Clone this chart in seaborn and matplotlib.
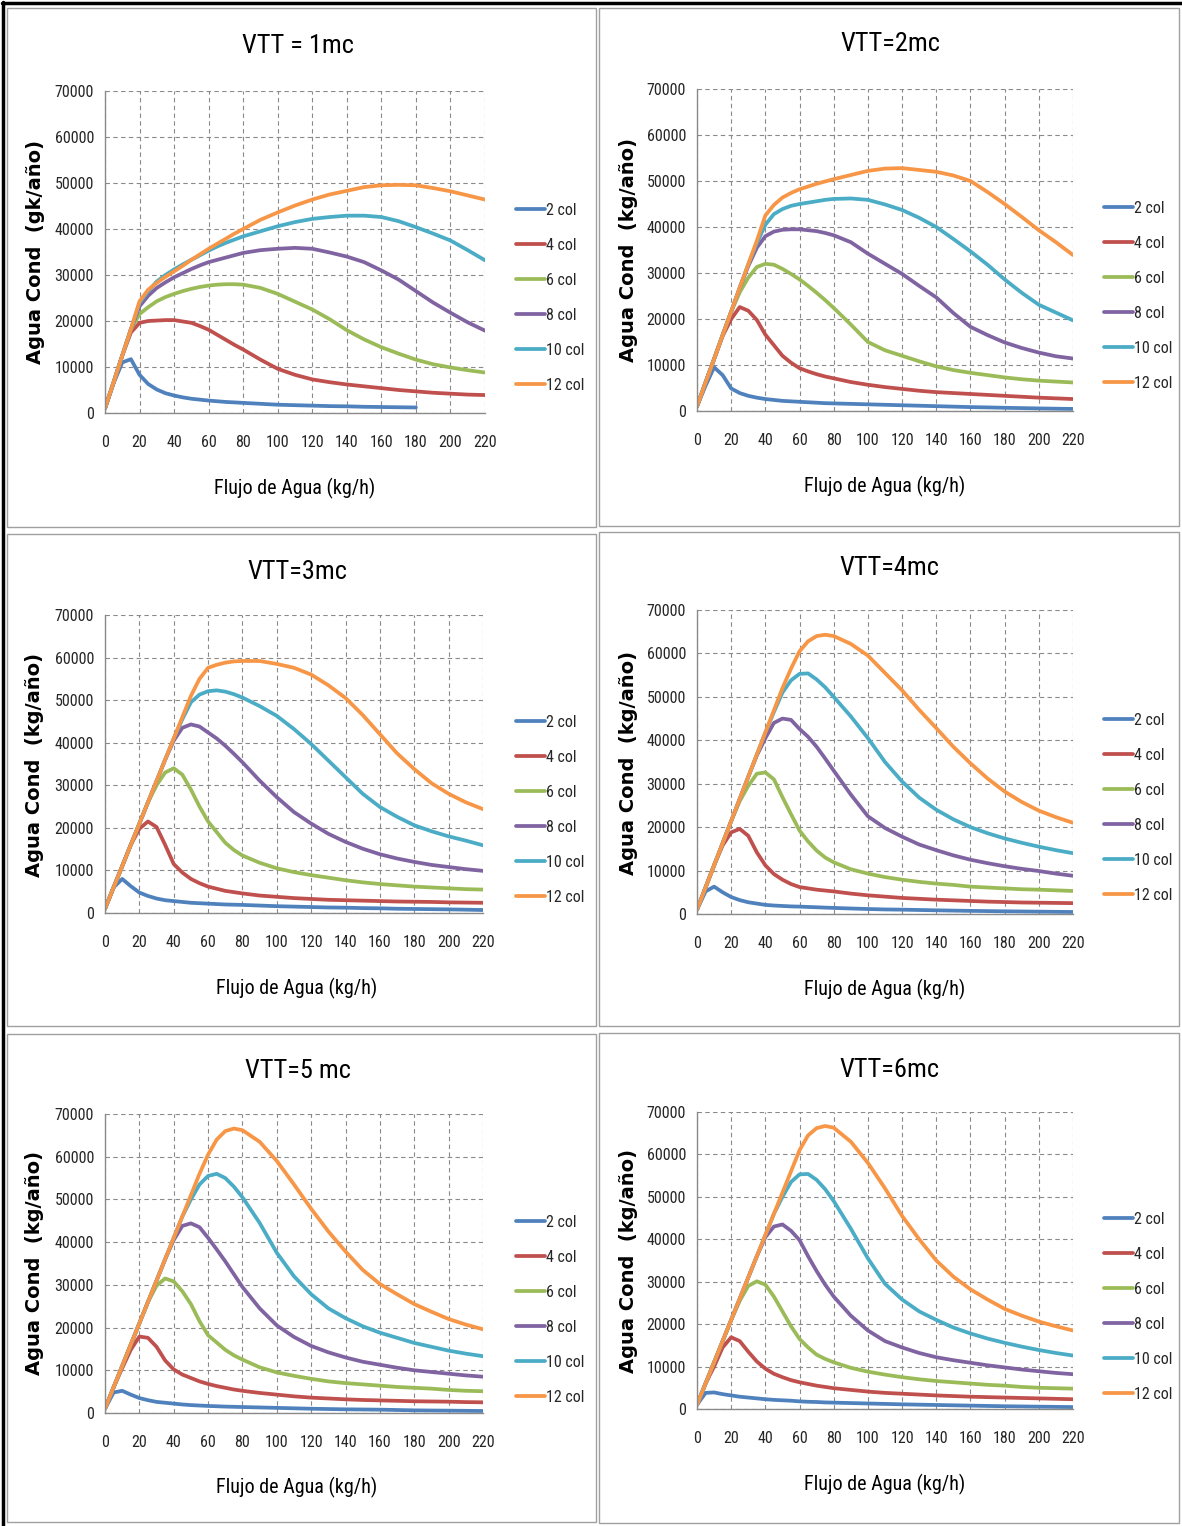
import numpy as np
import pandas as pd
import matplotlib
matplotlib.use("Agg")
import matplotlib.pyplot as plt
import seaborn as sns
from matplotlib import font_manager as fm
from matplotlib.lines import Line2D
from matplotlib.patches import Rectangle

nan = np.nan

# ---------------- data ----------------
flujo = [0, 5, 10, 15, 20, 25, 30, 35, 40, 45, 50, 55, 60, 65, 70, 75, 80,
         90, 100, 110, 120, 130, 140, 150, 160, 170, 180, 190, 200, 210, 220]
series_names = ["2 col", "4 col", "6 col", "8 col", "10 col", "12 col"]
titles = ["VTT = 1mc", "VTT=2mc", "VTT=3mc", "VTT=4mc", "VTT=5 mc", "VTT=6mc"]
ylabels = ["Agua Cond  (gk/año)"] + ["Agua Cond  (kg/año)"] * 5
xlabel = "Flujo de Agua (kg/h)"
xticks = list(range(0, 221, 20))
yticks = list(range(0, 70001, 10000))

# VTT = 1 mc
v1_2 = [1000, 6500, 11000, 11700, 8300, 6300, 5100, 4300, 3800, 3400, 3100, 2900, 2700, 2550, 2400, 2300, 2200,
        2000, 1800, 1700, 1600, 1500, 1450, 1350, 1300, 1250, 1200, nan, nan, nan, nan]
v1_4 = [1000, 6700, 12500, 17500, 19600, 20000, 20100, 20200, 20200, 19900, 19600, 18900, 18100, 17000, 15900, 14800, 13800,
        11600, 9600, 8300, 7300, 6700, 6200, 5800, 5400, 5000, 4700, 4400, 4200, 4000, 3900]
v1_6 = [1000, 6700, 12500, 18200, 21500, 23000, 24300, 25200, 25900, 26500, 27000, 27400, 27700, 27900, 28000, 28000, 27900,
        27200, 25900, 24200, 22500, 20400, 18000, 16000, 14300, 12900, 11600, 10600, 9900, 9300, 8800]
v1_8 = [1000, 6700, 12500, 18200, 23200, 25500, 27200, 28400, 29500, 30400, 31300, 32100, 32800, 33300, 33800, 34300, 34800,
        35400, 35700, 35900, 35700, 34900, 34000, 32800, 31000, 29000, 26500, 24000, 21800, 19700, 17900]
v1_10 = [1000, 6700, 12500, 18200, 23900, 26500, 28600, 30000, 31200, 32300, 33300, 34300, 35300, 36200, 37000, 37700, 38400,
         39500, 40600, 41500, 42200, 42600, 42900, 42900, 42600, 41700, 40400, 39000, 37500, 35400, 33200]
v1_12 = [1000, 6700, 12500, 18200, 24300, 26800, 28300, 29600, 30800, 32000, 33300, 34500, 35700, 36800, 37900, 39000, 40000,
         42000, 43600, 45100, 46400, 47500, 48300, 49100, 49500, 49600, 49500, 48900, 48200, 47300, 46400]

# VTT = 2 mc
v2_2 = [1000, 5500, 9500, 7800, 4900, 3900, 3300, 2900, 2600, 2400, 2200, 2100, 2000, 1900, 1800, 1700, 1650,
        1550, 1450, 1350, 1250, 1150, 1050, 950, 850, 780, 700, 630, 560, 500, 450]
v2_4 = [1000, 6200, 11300, 16300, 20000, 22600, 21800, 19800, 16600, 14300, 12000, 10500, 9300, 8600, 8000, 7500, 7100,
        6300, 5700, 5200, 4800, 4400, 4100, 3900, 3700, 3500, 3300, 3100, 2900, 2750, 2600]
v2_6 = [1000, 6200, 11300, 16500, 21600, 25800, 29000, 31300, 32000, 31800, 30900, 29800, 28600, 27200, 25700, 24100, 22400,
        18800, 15000, 13200, 12000, 10800, 9700, 8900, 8300, 7800, 7300, 6900, 6600, 6400, 6200]
v2_8 = [1000, 6200, 11300, 16500, 21600, 26800, 31500, 35500, 38000, 39000, 39400, 39500, 39500, 39300, 39100, 38700, 38200,
        36700, 34200, 32000, 29800, 27200, 24700, 21300, 18300, 16500, 14900, 13700, 12700, 11900, 11400]
v2_10 = [1000, 6200, 11300, 16500, 21600, 26800, 31900, 36500, 40500, 42800, 43900, 44600, 45000, 45300, 45600, 45900, 46100,
         46200, 45900, 44900, 43700, 42000, 40000, 37400, 34700, 31800, 28600, 25700, 23100, 21400, 19700]
v2_12 = [1000, 6200, 11300, 16500, 21600, 26800, 31900, 37000, 42500, 44800, 46400, 47400, 48200, 48800, 49400, 49900, 50400,
         51300, 52200, 52700, 52800, 52400, 52000, 51200, 50000, 47600, 45000, 42200, 39300, 36700, 33900]

# VTT = 3 mc
v3_2 = [1000, 6000, 8000, 6300, 4800, 4000, 3400, 3000, 2800, 2600, 2400, 2300, 2200, 2100, 2000, 1950, 1900,
        1750, 1600, 1500, 1400, 1300, 1250, 1150, 1100, 1000, 950, 900, 850, 780, 700]
v3_4 = [1000, 6000, 11000, 16000, 19800, 21500, 20200, 16000, 11500, 9500, 8000, 7000, 6200, 5700, 5200, 4900, 4600,
        4100, 3800, 3500, 3300, 3100, 3000, 2900, 2800, 2700, 2650, 2600, 2500, 2450, 2400]
v3_6 = [1000, 6000, 11000, 16000, 21000, 26000, 30000, 33000, 34000, 32500, 29000, 25000, 21500, 19000, 16500, 14800, 13500,
        11800, 10500, 9600, 8900, 8300, 7700, 7200, 6800, 6500, 6200, 6000, 5800, 5600, 5500]
v3_8 = [1000, 6000, 11000, 16000, 21000, 26000, 31000, 36000, 40500, 43500, 44300, 43800, 42400, 41000, 39300, 37400, 35400,
        31100, 27200, 23700, 21000, 18600, 16700, 15100, 13800, 12800, 12000, 11300, 10800, 10300, 9900]
v3_10 = [1000, 6000, 11000, 16000, 21000, 26000, 31000, 36000, 41000, 45500, 49500, 51300, 52100, 52300, 52000, 51400, 50600,
         48600, 46300, 43200, 39700, 35800, 31900, 28000, 24900, 22600, 20600, 19200, 18000, 17000, 15900]
v3_12 = [1000, 6000, 11000, 16000, 21000, 26000, 31000, 36000, 41000, 46000, 51000, 55000, 57600, 58300, 58800, 59100, 59200,
         59200, 58500, 57600, 56000, 53500, 50500, 46500, 42000, 37500, 33800, 30500, 28000, 26000, 24400]

# VTT = 4 mc
v4_2 = [1000, 5200, 6300, 5000, 3900, 3200, 2700, 2400, 2100, 1950, 1850, 1750, 1700, 1620, 1550, 1470, 1400,
        1270, 1150, 1050, 1000, 920, 850, 780, 720, 670, 620, 580, 540, 500, 460]
v4_4 = [1000, 6100, 11200, 15800, 18800, 19600, 18000, 14200, 11200, 9200, 7900, 6900, 6200, 5900, 5600, 5400, 5200,
        4700, 4300, 4000, 3700, 3500, 3300, 3150, 3000, 2850, 2750, 2650, 2600, 2550, 2500]
v4_6 = [1000, 6100, 11200, 16300, 21400, 26000, 29500, 32300, 32600, 31000, 26900, 23000, 19200, 16700, 14600, 13000, 11900,
        10300, 9300, 8500, 7900, 7400, 7000, 6700, 6300, 6100, 5900, 5700, 5600, 5450, 5300]
v4_8 = [1000, 6100, 11200, 16300, 21400, 26500, 31600, 36500, 40500, 44000, 45000, 44700, 42600, 40800, 38500, 35800, 33000,
        27500, 22500, 19800, 17800, 16000, 14700, 13500, 12500, 11700, 11000, 10400, 9900, 9300, 8800]
v4_10 = [1000, 6100, 11200, 16300, 21400, 26500, 31600, 36700, 41800, 46500, 51000, 53800, 55300, 55400, 54000, 52200, 50000,
         45500, 40500, 35000, 30500, 26800, 24000, 21800, 20000, 18600, 17400, 16400, 15500, 14700, 14000]
v4_12 = [1000, 6100, 11200, 16300, 21400, 26500, 31600, 36700, 41800, 46900, 52000, 56500, 60500, 62800, 64000, 64300, 64000,
         62200, 59500, 55500, 51500, 47000, 42800, 38500, 34700, 31200, 28200, 25800, 23800, 22300, 21000]

# VTT = 5 mc
v5_2 = [1000, 4800, 5200, 4300, 3500, 3000, 2600, 2400, 2200, 2000, 1850, 1750, 1650, 1580, 1500, 1450, 1400,
        1300, 1200, 1100, 1000, 930, 860, 820, 780, 700, 620, 580, 550, 510, 470]
v5_4 = [1000, 6000, 10500, 14800, 17900, 17600, 15500, 12300, 10200, 9000, 8200, 7400, 6800, 6300, 5900, 5500, 5200,
        4700, 4300, 3900, 3600, 3400, 3200, 3050, 2950, 2850, 2750, 2700, 2650, 2550, 2500]
v5_6 = [1000, 6000, 11000, 16000, 21000, 26000, 29800, 31500, 30800, 28500, 25500, 21500, 18200, 16500, 14800, 13500, 12500,
        10700, 9500, 8700, 8000, 7400, 7000, 6700, 6400, 6100, 5900, 5700, 5400, 5200, 5100]
v5_8 = [1000, 6000, 11000, 16000, 21000, 26000, 31000, 36000, 40500, 43800, 44400, 43500, 41000, 38300, 35500, 32500, 29500,
        24500, 20500, 17800, 15700, 14200, 13000, 12000, 11300, 10600, 10000, 9600, 9200, 8800, 8500]
v5_10 = [1000, 6000, 11000, 16000, 21000, 26000, 31000, 36000, 41000, 46000, 50000, 53500, 55500, 56000, 55000, 53000, 50500,
         44500, 37500, 32000, 27800, 24500, 22200, 20300, 18800, 17600, 16400, 15500, 14600, 13900, 13300]
v5_12 = [1000, 6000, 11000, 16000, 21000, 26000, 31000, 36000, 41000, 46000, 51000, 56000, 60500, 64000, 66000, 66600, 66200,
         63500, 59000, 53500, 47800, 42500, 37800, 33500, 30200, 27800, 25500, 23700, 22000, 20700, 19600]

# VTT = 6 mc
v6_2 = [1000, 3800, 3900, 3500, 3200, 2900, 2700, 2500, 2300, 2150, 2050, 1950, 1800, 1700, 1650, 1550, 1500,
        1400, 1300, 1200, 1100, 1020, 950, 870, 800, 720, 650, 600, 550, 500, 450]
v6_4 = [1000, 6000, 10000, 14500, 16900, 16000, 13500, 11200, 9500, 8300, 7500, 6800, 6300, 5900, 5500, 5200, 4900,
        4500, 4100, 3800, 3600, 3400, 3200, 3050, 2900, 2800, 2700, 2600, 2500, 2400, 2300]
v6_6 = [1000, 6000, 11000, 16000, 21000, 25500, 29000, 30100, 29300, 26500, 23000, 19500, 16500, 14500, 12800, 11800, 11000,
        9700, 8800, 8100, 7500, 7000, 6600, 6300, 6000, 5700, 5500, 5200, 5000, 4900, 4800]
v6_8 = [1000, 6000, 11000, 16000, 21000, 26000, 31000, 36000, 40500, 43000, 43500, 42000, 39800, 36000, 32500, 29300, 26500,
        22000, 18500, 16000, 14500, 13200, 12200, 11500, 10900, 10300, 9800, 9300, 8900, 8500, 8200]
v6_10 = [1000, 6000, 11000, 16000, 21000, 26000, 31000, 36000, 41000, 46000, 50000, 53500, 55300, 55400, 54000, 51800, 49000,
         42500, 35500, 29500, 25800, 23000, 21000, 19200, 17800, 16600, 15600, 14700, 13900, 13200, 12600]
v6_12 = [1000, 6000, 11000, 16000, 21000, 26000, 31000, 36000, 41000, 46000, 51000, 56000, 61000, 64500, 66200, 66700, 66300,
         63000, 58000, 52000, 45500, 40000, 35000, 31200, 28200, 25800, 23600, 22000, 20600, 19500, 18500]

panels = [
    [v1_2, v1_4, v1_6, v1_8, v1_10, v1_12],
    [v2_2, v2_4, v2_6, v2_8, v2_10, v2_12],
    [v3_2, v3_4, v3_6, v3_8, v3_10, v3_12],
    [v4_2, v4_4, v4_6, v4_8, v4_10, v4_12],
    [v5_2, v5_4, v5_6, v5_8, v5_10, v5_12],
    [v6_2, v6_4, v6_6, v6_8, v6_10, v6_12],
]

colors = ["#4F81BD", "#C0504D", "#9BBB59", "#8064A2", "#4BACC6", "#F79646"]

# ---------------- style ----------------
sns.set_style("white")
names = {f.name for f in fm.fontManager.ttflist}
narrow = next((n for n in ["Liberation Sans Narrow", "Roboto Condensed", "Open Sans Condensed",
                           "Liberation Sans", "DejaVu Sans"] if n in names), "DejaVu Sans")
plt.rcParams["font.family"] = [narrow, "DejaVu Sans"]

W, H = 1182, 1526
fig = plt.figure(figsize=(W / 100, H / 100), dpi=100)
fig.patch.set_facecolor("white")


def fx(x):
    return x / W


def fy(y):
    return 1 - y / H


# plot areas (left, top, right, bottom) in pixels
plot_boxes = [
    (105, 91, 485, 413),
    (697, 89, 1073, 411),
    (105, 615, 483, 913),
    (697, 610, 1073, 914),
    (105, 1114, 483, 1413),
    (697, 1112, 1073, 1409),
]
panel_boxes = [
    (7, 8, 596, 527),
    (599, 8, 1179, 526),
    (7, 534, 596, 1026),
    (599, 532, 1179, 1026),
    (7, 1034, 596, 1522),
    (599, 1033, 1179, 1523),
]
title_pos = [(298, 46), (890, 44), (297, 572), (889, 568), (298, 1071), (889, 1070)]
xlab_pos = [(295, 488), (885, 486), (297, 988), (885, 989), (297, 1487), (885, 1484)]
ylab_pos = [(36, 252), (628, 250), (35, 765), (628, 763), (35, 1263), (628, 1261)]
legend_pos = [(516, 298), (1104, 296), (516, 810), (1104, 808), (516, 1310), (1104, 1307)]

# panel frames
for (l, t, r, b) in panel_boxes:
    fig.add_artist(Rectangle((fx(l), fy(b)), (r - l) / W, (b - t) / H, transform=fig.transFigure,
                             fill=False, edgecolor="#a0a0a0", lw=1.0))
# outer black edges (top and left)
fig.add_artist(Line2D([fx(2), fx(1182)], [fy(2.5), fy(2.5)], transform=fig.transFigure, color="black", lw=2.5))
fig.add_artist(Line2D([fx(2.5), fx(2.5)], [fy(2), fy(1526)], transform=fig.transFigure, color="black", lw=2.5))

for i, vals in enumerate(panels):
    l, t, r, b = plot_boxes[i]
    ax = fig.add_axes([fx(l), fy(b), (r - l) / W, (b - t) / H])
    rows = []
    for name, v in zip(series_names, vals):
        for x, y in zip(flujo, v):
            rows.append((x, y, name))
    df = pd.DataFrame(rows, columns=["flujo", "agua", "serie"])
    sns.lineplot(data=df, x="flujo", y="agua", hue="serie", hue_order=series_names,
                 palette=colors, estimator=None, errorbar=None, linewidth=2.7,
                 legend=False, ax=ax, solid_joinstyle="round", solid_capstyle="round")
    ax.set_xlim(0, 220)
    ax.set_ylim(0, 70000)
    ax.set_xticks(xticks)
    ax.set_yticks(yticks)
    ax.set_xticklabels([str(v) for v in xticks], fontsize=11.5)
    ax.set_yticklabels([str(v) for v in yticks], fontsize=11.5)
    ax.tick_params(axis="x", length=0, pad=16)
    ax.tick_params(axis="y", length=0, pad=8)
    ax.grid(True, color="#8a8a8a", lw=0.8, linestyle=(0, (4, 3)))
    ax.set_axisbelow(True)
    for s in ["top", "right"]:
        ax.spines[s].set_visible(False)
    for s in ["left", "bottom"]:
        ax.spines[s].set_color("#8a8a8a")
        ax.spines[s].set_linewidth(1.0)
    ax.set_xlabel("")
    ax.set_ylabel("")

    handles = [Line2D([0], [0], color=c, lw=2.7) for c in colors]
    lx, ly = legend_pos[i]
    ax.legend(handles, series_names, loc="center left", bbox_to_anchor=(fx(lx), fy(ly)),
              bbox_transform=fig.transFigure, frameon=False, fontsize=11.5,
              handlelength=1.8, handletextpad=0.1, labelspacing=1.25,
              borderpad=0, borderaxespad=0)

    tx, ty = title_pos[i]
    fig.text(fx(tx), fy(ty), titles[i], ha="center", va="center", fontsize=19, color="black")
    xx, xy = xlab_pos[i]
    fig.text(fx(xx), fy(xy), xlabel, ha="center", va="center", fontsize=14.5, color="black")
    yx, yy = ylab_pos[i]
    fig.text(fx(yx), fy(yy), ylabels[i], ha="center", va="center", rotation=90, fontsize=14,
             fontweight="bold", color="black", family=["DejaVu Sans"])

fig.savefig("out.png", dpi=100)
